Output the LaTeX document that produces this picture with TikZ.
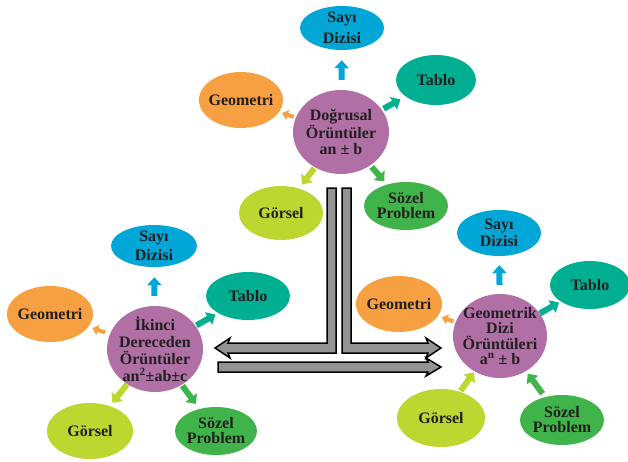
\documentclass[tikz,border=0pt]{standalone}
\usepackage{fontspec}
\setmainfont{Liberation Serif}
\usetikzlibrary{shapes.geometric,arrows.meta}
\definecolor{mor}{HTML}{B070A6}
\definecolor{mavi}{HTML}{00A6D6}
\definecolor{turkuaz}{HTML}{00AF91}
\definecolor{turuncu}{HTML}{F7A041}
\definecolor{sari}{HTML}{BED630}
\definecolor{yesil}{HTML}{40B44A}
\definecolor{gri}{HTML}{939393}
\definecolor{yazi}{HTML}{231F20}
\begin{document}
\begin{tikzpicture}[x=1pt,y=-1pt,
    bubble/.style={ellipse, inner sep=-12pt, align=center, text=yazi,
        font=\bfseries\fontsize{16}{15}\selectfont},
    merkez/.style={bubble, fill=mor, minimum width=96pt, minimum height=84pt},
    pil/.style={line width=6pt, -{Triangle[width=14pt,length=8pt]}},
    pilk/.style={line width=4pt, -{Triangle[width=10pt,length=6pt]}},
    buyuk/.style={fill=gri, draw=black, line width=1.5pt, line join=miter}]
\useasboundingbox (0,0) rectangle (628,461);
% big arrows
\draw[buyuk] (327,188) -- (336,188) -- (336,353) -- (228,353) -- (230,358) -- (215,348)
    -- (230,338) -- (228,343) -- (327,343) -- cycle;
\draw[buyuk] (342,188) -- (351,188) -- (351,343) -- (428,343) -- (426,338) -- (441,348)
    -- (426,358) -- (428,353) -- (342,353) -- cycle;
\draw[buyuk] (218,362) -- (428,362) -- (426,358) -- (441,367) -- (426,376) -- (428,372)
    -- (218,372) -- cycle;

% top cluster
\node[merkez, font=\bfseries\fontsize{16}{16.5}\selectfont] (dog) at (341,132) {Doğrusal\\Örüntüler\\an ± b};
\node[bubble, fill=mavi, minimum width=84pt, minimum height=44pt, font=\bfseries\fontsize{16}{21}\selectfont] (dsayi) at (342,28) {Sayı\\Dizisi};
\node[bubble, fill=turkuaz, minimum width=80pt, minimum height=50pt] (dtablo) at (436,80) {Tablo};
\node[bubble, fill=turuncu, minimum width=84pt, minimum height=56pt] (dgeo) at (241,100) {Geometri};
\node[bubble, fill=sari, minimum width=84pt, minimum height=54pt] (dgorsel) at (281,213) {Görsel};
\node[bubble, fill=yesil, minimum width=84pt, minimum height=48pt] (dsozel) at (406,206) {Sözel\\Problem};
\draw[pil, mavi, shorten <=10pt, shorten >=10pt] (dog) -- (dsayi);
\draw[pil, turkuaz, shorten <=2pt, shorten >=6pt] (dog) -- (dtablo);
\draw[pilk, turuncu, shorten <=2pt, shorten >=3pt] (dog) -- (dgeo);
\draw[pil, sari, shorten <=1pt, shorten >=5pt] (dog) -- (dgorsel);
\draw[pil, yesil, shorten <=2pt, shorten >=4pt] (dog) -- (dsozel);

% left cluster
\node[merkez, minimum height=86pt, font=\bfseries\fontsize{16}{17}\selectfont] (iki) at (155,349) {İkinci\\Dereceden\\Örüntüler\\an\textsuperscript{2}±ab±c};
\node[bubble, fill=mavi, minimum width=86pt, minimum height=42pt, font=\bfseries\fontsize{16}{19}\selectfont] (isayi) at (154,246) {Sayı\\Dizisi};
\node[bubble, fill=turkuaz, minimum width=84pt, minimum height=48pt] (itablo) at (248,296) {Tablo};
\node[bubble, fill=turuncu, minimum width=86pt, minimum height=56pt] (igeo) at (50,314) {Geometri};
\node[bubble, fill=sari, minimum width=86pt, minimum height=56pt] (igorsel) at (90,431) {Görsel};
\node[bubble, fill=yesil, minimum width=82pt, minimum height=48pt] (isozel) at (216,431) {Sözel\\Problem};
\draw[pil, mavi, shorten <=10pt, shorten >=10pt] (iki) -- (isayi);
\draw[pil, turkuaz, shorten <=1pt, shorten >=3pt] (iki) -- (itablo);
\draw[pilk, turuncu, shorten <=5pt, shorten >=4pt] (iki) -- (igeo);
\draw[pil, sari, shorten <=0pt, shorten >=4pt] (iki) -- (igorsel);
\draw[pil, yesil, shorten <=1pt, shorten >=6pt] (iki) -- (isozel);

% right cluster
\node[merkez, minimum width=94pt, font=\bfseries\fontsize{16}{15.5}\selectfont] (geo) at (500,336) {Geometrik\\Dizi\\Örüntüleri\\a\textsuperscript{n} ± b};
\node[bubble, fill=mavi, minimum width=84pt, minimum height=46pt, font=\bfseries\fontsize{16}{17}\selectfont] (gsayi) at (499,233) {Sayı\\Dizisi};
\node[bubble, fill=turkuaz, minimum width=80pt, minimum height=48pt] (gtablo) at (590,285) {Tablo};
\node[bubble, fill=turuncu, minimum width=86pt, minimum height=56pt] (ggeo) at (399,304) {Geometri};
\node[bubble, fill=sari, minimum width=88pt, minimum height=58pt] (ggorsel) at (441,418) {Görsel};
\node[bubble, fill=yesil, minimum width=84pt, minimum height=50pt] (gsozel) at (562,420) {Sözel\\Problem};
\draw[pil, mavi, shorten <=9pt, shorten >=9pt] (geo) -- (gsayi);
\draw[pil, turkuaz, shorten <=0pt, shorten >=2pt] (geo) -- (gtablo);
\draw[pilk, turuncu, shorten <=2pt, shorten >=4pt] (geo) -- (ggeo);
\draw[pil, sari, shorten <=1pt, shorten >=1pt] (ggorsel) -- (geo);
\draw[pil, yesil, shorten <=4pt, shorten >=3pt] (gsozel) -- (geo);
\end{tikzpicture}
\end{document}
